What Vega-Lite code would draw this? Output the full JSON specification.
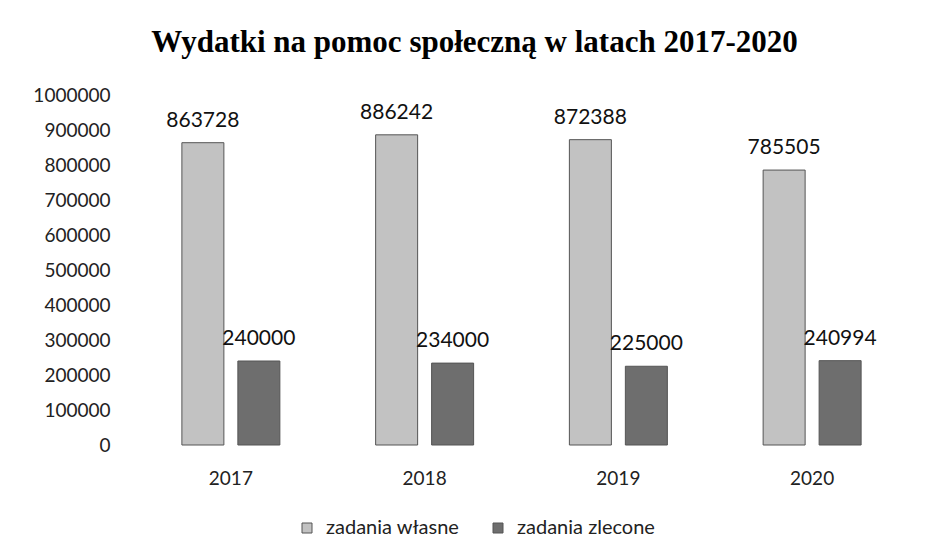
{
  "$schema": "https://vega.github.io/schema/vega-lite/v6.json",
  "width": 775,
  "height": 350,
  "autosize": {"type": "none"},
  "padding": {"left": 134, "top": 95, "right": 17, "bottom": 115},
  "background": "white",
  "title": {
    "text": "Wydatki na pomoc społeczną w latach 2017-2020",
    "font": "Liberation Serif",
    "fontSize": 31,
    "fontWeight": "bold",
    "color": "#000000",
    "anchor": "middle",
    "frame": "group",
    "baseline": "alphabetic",
    "dx": -47,
    "offset": 3
  },
  "data": {
    "values": [
      {"rok": "2017", "seria": "zadania własne", "wartosc": 863728},
      {"rok": "2017", "seria": "zadania zlecone", "wartosc": 240000},
      {"rok": "2018", "seria": "zadania własne", "wartosc": 886242},
      {"rok": "2018", "seria": "zadania zlecone", "wartosc": 234000},
      {"rok": "2019", "seria": "zadania własne", "wartosc": 872388},
      {"rok": "2019", "seria": "zadania zlecone", "wartosc": 225000},
      {"rok": "2020", "seria": "zadania własne", "wartosc": 785505},
      {"rok": "2020", "seria": "zadania zlecone", "wartosc": 240994}
    ]
  },
  "encoding": {
    "x": {
      "field": "rok",
      "type": "nominal",
      "scale": {"paddingInner": 0.422, "paddingOuter": 0.211},
      "axis": {
        "title": null,
        "labelAngle": 0,
        "domain": false,
        "ticks": false,
        "grid": false,
        "labelFont": "Lato",
        "labelFontSize": 19,
        "labelColor": "#222222",
        "labelPadding": 24
      }
    },
    "xOffset": {
      "field": "seria",
      "type": "nominal",
      "sort": ["zadania własne", "zadania zlecone"],
      "scale": {"paddingInner": 0.25, "paddingOuter": 0.125}
    },
    "y": {
      "field": "wartosc",
      "type": "quantitative",
      "scale": {"domain": [0, 1000000], "nice": false},
      "axis": {
        "title": null,
        "values": [0, 100000, 200000, 300000, 400000, 500000, 600000, 700000, 800000, 900000, 1000000],
        "format": "d",
        "domain": false,
        "ticks": false,
        "grid": false,
        "labelFont": "Lato",
        "labelFontSize": 19,
        "labelColor": "#222222",
        "labelPadding": 24
      }
    }
  },
  "layer": [
    {
      "mark": {"type": "bar", "stroke": "#555555", "strokeWidth": 1},
      "encoding": {
        "color": {
          "field": "seria",
          "type": "nominal",
          "sort": ["zadania własne", "zadania zlecone"],
          "scale": {"domain": ["zadania własne", "zadania zlecone"], "range": ["#c2c2c2", "#6e6e6e"]},
          "legend": {
            "orient": "none",
            "legendX": 163,
            "legendY": 423,
            "direction": "horizontal",
            "title": null,
            "symbolType": "square",
            "symbolSize": 100,
            "symbolStrokeColor": "#555555",
            "symbolStrokeWidth": 1,
            "labelFont": "Lato",
            "labelFontSize": 20,
            "labelColor": "#222222",
            "labelOffset": 9,
            "columnPadding": 28
          }
        }
      }
    },
    {
      "mark": {"type": "text", "baseline": "alphabetic", "dy": -16, "font": "Lato", "fontSize": 21, "color": "#111111"},
      "encoding": {
        "text": {"field": "wartosc", "type": "quantitative", "format": "d"}
      }
    }
  ],
  "config": {"view": {"stroke": null}}
}
